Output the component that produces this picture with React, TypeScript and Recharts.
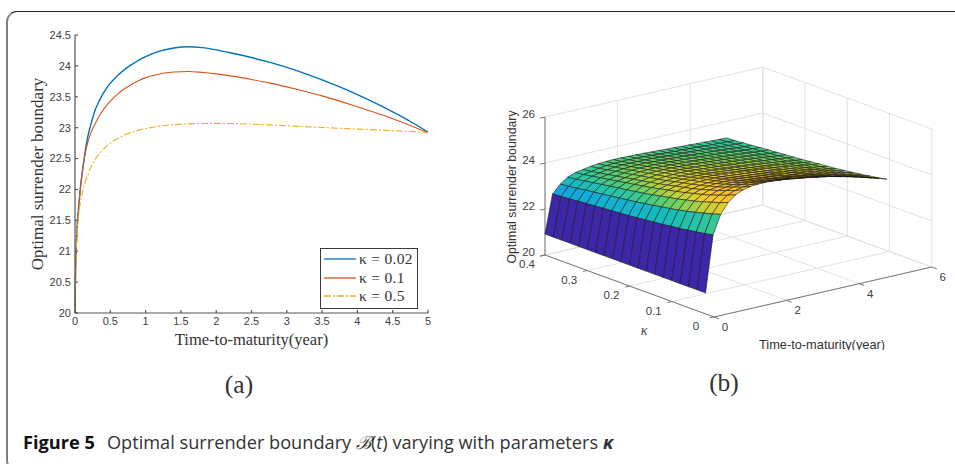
import React from "react";
import { LineChart, Line, XAxis, YAxis, Label, Legend, ScatterChart, Scatter } from "recharts";

// ---------- panel (a): curves ----------
const maturity = [0, 0.005, 0.01, 0.02, 0.03, 0.05, 0.07, 0.1, 0.14, 0.18, 0.22, 0.28, 0.35, 0.42, 0.5, 0.6, 0.7, 0.8, 0.9, 1, 1.2, 1.4, 1.6, 1.8, 2, 2.25, 2.5, 2.75, 3, 3.25, 3.5, 3.75, 4, 4.25, 4.5, 4.75, 5];
const kappa002 = [20, 20.5, 20.8, 21.15, 21.4, 21.7, 21.95, 22.25, 22.58, 22.85, 23.03, 23.27, 23.45, 23.59, 23.72, 23.84, 23.94, 24.02, 24.09, 24.15, 24.24, 24.29, 24.31, 24.295, 24.26, 24.2, 24.135, 24.06, 23.975, 23.88, 23.775, 23.66, 23.535, 23.4, 23.255, 23.1, 22.93];
const kappa01 = [20, 20.45, 20.75, 21.1, 21.33, 21.62, 21.95, 22.25, 22.55, 22.76, 22.9, 23.05, 23.2, 23.32, 23.43, 23.54, 23.63, 23.7, 23.76, 23.81, 23.87, 23.9, 23.91, 23.895, 23.87, 23.83, 23.78, 23.725, 23.66, 23.59, 23.515, 23.43, 23.34, 23.245, 23.145, 23.035, 22.92];
const kappa05 = [20, 20.35, 20.65, 21.05, 21.3, 21.58, 21.75, 21.93, 22.1, 22.23, 22.35, 22.48, 22.58, 22.67, 22.75, 22.82, 22.88, 22.925, 22.96, 22.985, 23.025, 23.05, 23.062, 23.068, 23.07, 23.066, 23.058, 23.045, 23.03, 23.017, 23.003, 22.99, 22.977, 22.965, 22.952, 22.937, 22.92];
const xTicksA = [0, 0.5, 1, 1.5, 2, 2.5, 3, 3.5, 4, 4.5, 5];
const yTicksA = [20, 20.5, 21, 21.5, 22, 22.5, 23, 23.5, 24, 24.5];
const seriesNames = ["κ = 0.02", "κ = 0.1", "κ = 0.5"];
const seriesColors = ["#0072BD", "#D95319", "#EDB120"];
const seriesDash = [undefined, undefined, "7 2 2 2"];
const curveRows = maturity.map((t, i) => ({ t, a: kappa002[i], b: kappa01[i], c: kappa05[i] }));

// ---------- panel (b): surface ----------
const surfaceT = [0, 0.208, 0.417, 0.625, 0.833, 1.04, 1.25, 1.46, 1.67, 1.875, 2.08, 2.29, 2.5, 2.71, 2.92, 3.125, 3.33, 3.54, 3.75, 3.96, 4.17, 4.375, 4.58, 4.79, 5];
const surfaceK = [0.02, 0.04, 0.06, 0.08, 0.1, 0.12, 0.14, 0.16, 0.18, 0.2, 0.22, 0.24, 0.26, 0.28, 0.3, 0.32, 0.34, 0.36, 0.38, 0.4];
const surfaceZ = [
  [20.91, 20.91, 20.91, 20.91, 20.91, 20.91, 20.91, 20.91, 20.91, 20.91, 20.91, 20.91, 20.91, 20.91, 20.91, 20.91, 20.91, 20.91, 20.91, 20.91],
  [23.36, 23.28, 23.22, 23.16, 23.10, 23.06, 23.01, 22.97, 22.93, 22.89, 22.85, 22.82, 22.79, 22.76, 22.73, 22.70, 22.67, 22.63, 22.60, 22.58],
  [24.18, 24.06, 23.96, 23.86, 23.77, 23.69, 23.62, 23.56, 23.49, 23.43, 23.37, 23.32, 23.27, 23.22, 23.17, 23.12, 23.07, 23.02, 22.97, 22.93],
  [24.62, 24.47, 24.36, 24.24, 24.14, 24.05, 23.96, 23.89, 23.82, 23.74, 23.67, 23.61, 23.55, 23.50, 23.44, 23.38, 23.32, 23.26, 23.20, 23.16],
  [24.88, 24.72, 24.59, 24.46, 24.35, 24.26, 24.16, 24.08, 24.00, 23.92, 23.84, 23.78, 23.71, 23.65, 23.58, 23.52, 23.46, 23.39, 23.33, 23.28],
  [25.02, 24.85, 24.72, 24.58, 24.47, 24.36, 24.26, 24.18, 24.10, 24.01, 23.93, 23.86, 23.79, 23.73, 23.66, 23.59, 23.52, 23.46, 23.39, 23.34],
  [25.09, 24.92, 24.79, 24.65, 24.53, 24.43, 24.33, 24.24, 24.16, 24.08, 23.99, 23.92, 23.86, 23.79, 23.72, 23.65, 23.59, 23.52, 23.45, 23.40],
  [25.12, 24.95, 24.82, 24.68, 24.57, 24.46, 24.36, 24.28, 24.20, 24.11, 24.03, 23.96, 23.89, 23.83, 23.76, 23.69, 23.62, 23.56, 23.49, 23.44],
  [25.12, 24.95, 24.82, 24.69, 24.57, 24.47, 24.37, 24.29, 24.21, 24.12, 24.04, 23.97, 23.91, 23.84, 23.78, 23.71, 23.64, 23.58, 23.51, 23.46],
  [25.10, 24.94, 24.81, 24.68, 24.56, 24.46, 24.37, 24.28, 24.20, 24.12, 24.04, 23.98, 23.91, 23.84, 23.78, 23.71, 23.65, 23.58, 23.52, 23.47],
  [25.07, 24.91, 24.78, 24.65, 24.54, 24.45, 24.35, 24.27, 24.19, 24.11, 24.03, 23.97, 23.90, 23.84, 23.77, 23.71, 23.65, 23.58, 23.52, 23.47],
  [25.03, 24.87, 24.75, 24.62, 24.51, 24.42, 24.32, 24.24, 24.17, 24.09, 24.01, 23.95, 23.88, 23.82, 23.76, 23.70, 23.63, 23.57, 23.51, 23.46],
  [24.98, 24.83, 24.70, 24.58, 24.48, 24.38, 24.29, 24.21, 24.14, 24.06, 23.99, 23.92, 23.86, 23.80, 23.74, 23.68, 23.62, 23.56, 23.50, 23.45],
  [24.93, 24.78, 24.66, 24.54, 24.44, 24.35, 24.26, 24.18, 24.11, 24.04, 23.96, 23.90, 23.84, 23.78, 23.72, 23.66, 23.60, 23.54, 23.48, 23.44],
  [24.88, 24.73, 24.62, 24.50, 24.40, 24.31, 24.22, 24.15, 24.08, 24.00, 23.93, 23.87, 23.81, 23.76, 23.70, 23.64, 23.58, 23.52, 23.46, 23.42],
  [24.82, 24.68, 24.57, 24.45, 24.35, 24.27, 24.19, 24.11, 24.04, 23.97, 23.90, 23.85, 23.79, 23.73, 23.68, 23.62, 23.57, 23.51, 23.45, 23.41],
  [24.76, 24.62, 24.51, 24.40, 24.31, 24.23, 24.14, 24.07, 24.01, 23.94, 23.87, 23.81, 23.76, 23.71, 23.65, 23.60, 23.54, 23.49, 23.43, 23.39],
  [24.69, 24.56, 24.45, 24.35, 24.26, 24.18, 24.10, 24.03, 23.97, 23.90, 23.84, 23.79, 23.73, 23.68, 23.63, 23.58, 23.52, 23.47, 23.42, 23.38],
  [24.61, 24.48, 24.38, 24.28, 24.20, 24.12, 24.05, 23.98, 23.92, 23.86, 23.80, 23.75, 23.70, 23.65, 23.60, 23.55, 23.50, 23.45, 23.40, 23.36],
  [24.53, 24.41, 24.32, 24.22, 24.14, 24.07, 24.00, 23.94, 23.88, 23.82, 23.76, 23.72, 23.67, 23.62, 23.57, 23.53, 23.48, 23.43, 23.39, 23.35],
  [24.44, 24.33, 24.24, 24.15, 24.07, 24.01, 23.94, 23.88, 23.83, 23.77, 23.72, 23.67, 23.63, 23.59, 23.54, 23.50, 23.45, 23.41, 23.36, 23.33],
  [24.35, 24.25, 24.16, 24.08, 24.01, 23.95, 23.89, 23.83, 23.78, 23.73, 23.68, 23.64, 23.60, 23.56, 23.52, 23.47, 23.43, 23.39, 23.35, 23.32],
  [24.25, 24.15, 24.08, 24.00, 23.94, 23.88, 23.82, 23.77, 23.73, 23.68, 23.63, 23.59, 23.56, 23.52, 23.48, 23.44, 23.40, 23.37, 23.33, 23.30],
  [24.15, 24.06, 24.00, 23.93, 23.87, 23.81, 23.76, 23.72, 23.68, 23.63, 23.59, 23.56, 23.52, 23.49, 23.45, 23.42, 23.38, 23.35, 23.32, 23.29],
  [24.05, 23.97, 23.91, 23.85, 23.80, 23.75, 23.70, 23.66, 23.63, 23.59, 23.55, 23.52, 23.49, 23.46, 23.43, 23.40, 23.36, 23.33, 23.30, 23.28],
];
const tTicksB = [0, 2, 4, 6];
const kTicksB = [0, 0.1, 0.2, 0.3, 0.4];
const zTicksB = [20, 22, 24, 26];

// ---------- orthographic view of the box (pixels per data unit) ----------
const VIEW = { tx: 36.3, ty: 8.33, kx: -422.5, ky: 155, z: 23 };
const project = (t: number, k: number, z: number) => ({
  u: t * VIEW.tx + k * VIEW.kx,
  v: t * VIEW.ty + k * VIEW.ky + (z - 20) * VIEW.z,
});

type P = { u: number; v: number };
const segs: P[] = [];
const addSeg = (list: P[], a: number[], b: number[]) => {
  list.push(project(a[0], a[1], a[2]), project(b[0], b[1], b[2]));
};
// walls and floor
zTicksB.forEach((z) => {
  addSeg(segs, [0, 0.4, z], [6, 0.4, z]);
  addSeg(segs, [6, 0.4, z], [6, 0, z]);
});
tTicksB.forEach((t) => {
  addSeg(segs, [t, 0.4, 20], [t, 0.4, 26]);
  addSeg(segs, [t, 0, 20], [t, 0.4, 20]);
});
kTicksB.forEach((k) => {
  addSeg(segs, [6, k, 20], [6, k, 26]);
  addSeg(segs, [0, k, 20], [6, k, 20]);
});
// axes and tick marks
const axisSegs: P[] = [];
addSeg(axisSegs, [0, 0.4, 20], [0, 0.4, 26]);
addSeg(axisSegs, [0, 0, 20], [0, 0.4, 20]);
addSeg(axisSegs, [0, 0, 20], [6, 0, 20]);
zTicksB.forEach((z) => addSeg(axisSegs, [0, 0.4, z], [-0.14, 0.4, z]));
kTicksB.forEach((k) => addSeg(axisSegs, [0, k, 20], [-0.12, k, 20]));
tTicksB.forEach((t) => addSeg(axisSegs, [t, 0, 20], [t, -0.012, 20]));

// surface quads, far to near; the colour follows the first corner
const quadPts: P[] = [];
const quadLevels: number[] = [];
for (let i = surfaceT.length - 2; i >= 0; i--) {
  for (let j = surfaceK.length - 2; j >= 0; j--) {
    const c = [[i, j], [i + 1, j], [i + 1, j + 1], [i, j + 1]];
    c.forEach(([a, b]) => quadPts.push(project(surfaceT[a], surfaceK[b], surfaceZ[a][b])));
    quadLevels.push(surfaceZ[i][j]);
  }
}
const stops: [number, number[]][] = [
  [0, [62, 38, 168]], [0.3, [40, 130, 235]], [0.42, [18, 172, 216]], [0.5, [22, 188, 190]],
  [0.58, [50, 200, 150]], [0.65, [105, 208, 100]], [0.72, [190, 208, 60]], [0.8, [236, 204, 42]],
  [0.88, [252, 190, 50]], [1, [250, 205, 46]],
];
const colorOf = (z: number) => {
  const f = Math.max(0, Math.min(1, (z - 20.91) / (25.12 - 20.91)));
  let n = 0;
  while (n < stops.length - 2 && f > stops[n + 1][0]) n++;
  const [a, ca] = stops[n];
  const [b, cb] = stops[n + 1];
  const w = (f - a) / (b - a);
  return `rgb(${ca.map((v, m) => Math.round(v + (cb[m] - v) * w)).join(",")})`;
};

const zLabels = zTicksB.map((z) => ({ ...project(0, 0.4, z), text: String(z) }));
const kLabels = kTicksB.map((k) => ({ ...project(0, k, 20), text: String(k) }));
const tLabels = tTicksB.map((t) => ({ ...project(t, 0, 20), text: String(t) }));

const drawSegments = (color: string, width: number) => (p: any) => {
  const pts = p.points;
  const out: React.ReactNode[] = [];
  for (let i = 0; i + 1 < pts.length; i += 2) {
    out.push(<line key={i} x1={pts[i].x} y1={pts[i].y} x2={pts[i + 1].x} y2={pts[i + 1].y} stroke={color} strokeWidth={width} />);
  }
  return <g>{out}</g>;
};
const drawQuads = (p: any) => {
  const pts = p.points;
  const out: React.ReactNode[] = [];
  for (let i = 0; i + 3 < pts.length; i += 4) {
    const s = [0, 1, 2, 3].map((n) => `${pts[i + n].x},${pts[i + n].y}`).join(" ");
    out.push(<polygon key={i} points={s} fill={colorOf(quadLevels[i / 4])} stroke="#141414" strokeOpacity={0.8} strokeWidth={0.7} strokeLinejoin="round" />);
  }
  return <g>{out}</g>;
};
const noMark = () => <g />;
const tickText = (dx: number, dy: number, anchor: string) => (p: any) => (
  <text x={p.cx + dx} y={p.cy + dy} textAnchor={anchor} dominantBaseline="middle" fontFamily="Liberation Sans" fontSize={11.5} fill="#404040">
    {p.payload.text}
  </text>
);

const SERIF = "'Liberation Serif', serif";
const tickStyle = { fontFamily: "Liberation Sans", fontSize: 11, fill: "#404040" };

const LegendBox = () => (
  <div style={{ width: 96, height: 57, background: "#fff", border: "1px solid #3a3a3a", fontFamily: SERIF, fontSize: 15.5, color: "#333", padding: "1px 0", boxSizing: "content-box" }}>
    {seriesNames.map((n, i) => (
      <div key={n} style={{ display: "flex", alignItems: "center", height: 18.6 }}>
        <svg width={38} height={12} style={{ flex: "none" }}>
          <line x1={3} x2={35} y1={6} y2={6} stroke={seriesColors[i]} strokeWidth={1.3} strokeDasharray={seriesDash[i]} />
        </svg>
        <span style={{ whiteSpace: "nowrap", letterSpacing: 0.3 }}>{n}</span>
      </div>
    ))}
  </div>
);

export default function App() {
  return (
    <div style={{ position: "absolute", left: 0, top: 0, width: 955, height: 464, overflow: "hidden", background: "#fff" }}>
      <div style={{ position: "absolute", left: 6, top: 11, width: 980, height: 460, boxSizing: "border-box", borderLeft: "2px solid #808080", borderTop: "1.2px solid #222", borderBottom: "1px solid #444", borderTopLeftRadius: 11, borderBottomLeftRadius: 11 }} />

      <div style={{ position: "absolute", left: 0, top: 0 }}>
        <LineChart width={470} height={352} data={curveRows} margin={{ top: 35, left: 15, right: 42, bottom: 0 }}>
          <XAxis dataKey="t" type="number" domain={[0, 5]} ticks={xTicksA} interval={0} height={39} stroke="#555" strokeWidth={1.2} tick={tickStyle} tickSize={-3} tickMargin={7}>
            <Label value="Time-to-maturity(year)" position="insideBottom" offset={7} style={{ fontFamily: SERIF, fontSize: 16.5, fill: "#333" }} />
          </XAxis>
          <YAxis type="number" domain={[20, 24.5]} ticks={yTicksA} interval={0} width={60} stroke="#555" strokeWidth={1.2} tick={tickStyle} tickSize={-3} tickMargin={7}>
            <Label value="Optimal surrender boundary" angle={-90} position="insideLeft" offset={22} style={{ fontFamily: SERIF, fontSize: 17, fill: "#333", textAnchor: "middle" }} />
          </YAxis>
          <Line dataKey="a" name={seriesNames[0]} stroke={seriesColors[0]} strokeWidth={1.4} dot={false} isAnimationActive={false} type="monotone" />
          <Line dataKey="b" name={seriesNames[1]} stroke={seriesColors[1]} strokeWidth={1.1} dot={false} isAnimationActive={false} type="monotone" />
          <Line dataKey="c" name={seriesNames[2]} stroke={seriesColors[2]} strokeWidth={1.1} strokeDasharray={seriesDash[2]} dot={false} isAnimationActive={false} type="monotone" />
          <Legend layout="vertical" align="center" verticalAlign="middle" content={<LegendBox />} wrapperStyle={{ left: 320, top: 248, width: "auto", bottom: "auto" }} />
        </LineChart>
      </div>

      <div style={{ position: "absolute", left: 480, top: 60 }}>
        <ScatterChart width={475} height={290} margin={{ top: 0, left: 0, right: 0, bottom: 0 }}>
          <XAxis type="number" dataKey="u" domain={[-234, 241]} hide allowDataOverflow />
          <YAxis type="number" dataKey="v" domain={[-33, 257]} hide allowDataOverflow />
          <Scatter data={segs} shape={noMark} line={drawSegments("#e2e2e2", 1)} isAnimationActive={false} />
          <Scatter data={axisSegs} shape={noMark} line={drawSegments("#777", 1)} isAnimationActive={false} />
          <Scatter data={quadPts} shape={noMark} line={drawQuads} isAnimationActive={false} />
          <Scatter data={zLabels} shape={tickText(-10, -2, "end")} isAnimationActive={false} />
          <Scatter data={kLabels} shape={tickText(-18, 10, "middle")} isAnimationActive={false} />
          <Scatter data={tLabels} shape={tickText(11, 11, "middle")} isAnimationActive={false} />
          <text x={33} y={127} transform="rotate(-90 33 127)" textAnchor="middle" dominantBaseline="middle" fontFamily="Liberation Sans" fontSize={12.3} fill="#333">Optimal surrender boundary</text>
          <text x={164} y={272} textAnchor="middle" dominantBaseline="middle" fontFamily="Liberation Serif" fontStyle="italic" fontSize={14} fill="#444">κ</text>
          <text x={342} y={286} textAnchor="middle" dominantBaseline="middle" fontFamily="Liberation Sans" fontSize={12.8} fill="#333">Time-to-maturity(year)</text>
        </ScatterChart>
      </div>

      <div style={{ position: "absolute", left: 209, top: 370, width: 60, textAlign: "center", fontFamily: SERIF, fontSize: 25.5, color: "#333" }}>(a)</div>
      <div style={{ position: "absolute", left: 694, top: 368, width: 60, textAlign: "center", fontFamily: SERIF, fontSize: 25.5, color: "#333" }}>(b)</div>

      <div style={{ position: "absolute", left: 23, top: 430, fontFamily: "'Open Sans', sans-serif", fontSize: 18.2, color: "#333", whiteSpace: "nowrap" }}>
        <b style={{ color: "#111" }}>Figure 5</b>
        <span style={{ marginLeft: 12 }}>Optimal surrender boundary </span>
        <span style={{ fontFamily: "'DejaVu Serif', serif", fontStyle: "italic" }}>ℬ</span>
        <span>(<i>t</i>) varying with parameters </span>
        <b><i>κ</i></b>
      </div>
    </div>
  );
}
